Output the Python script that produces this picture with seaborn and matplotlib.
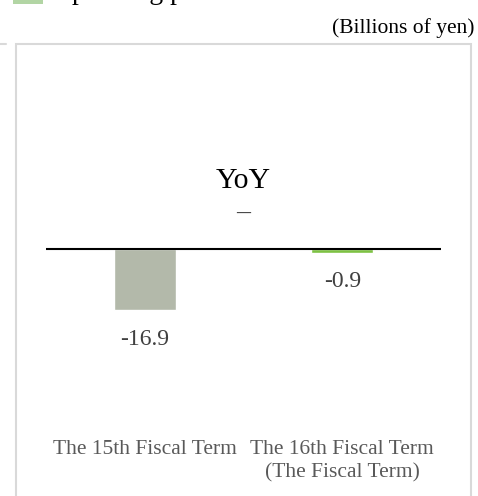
import matplotlib
matplotlib.use("Agg")
import matplotlib.pyplot as plt
from matplotlib.patches import Rectangle
from matplotlib.lines import Line2D
import matplotlib.transforms as mtransforms
import seaborn as sns
import pandas as pd

# Data
categories = ["The 15th Fiscal Term", "The 16th Fiscal Term\n(The Fiscal Term)"]
values = [-16.9, -0.9]
bar_colors = ["#B3B9AA", "#7DC242"]
legend_label = "Operating profit"
unit_label = "(Billions of yen)"
panel_title = "YoY"
panel_subtitle = "\u2013"

sns.set_theme(style="white")
plt.rcParams["font.family"] = ["Liberation Serif", "DejaVu Serif"]

W, H = 478, 496
fig = plt.figure(figsize=(W / 100, H / 100), dpi=100)


def fx(px):
    return px / W


def fy(py):
    return 1 - py / H


# Panel frame and neighbouring frame edge
fig.add_artist(Rectangle((fx(16), fy(520)), fx(471) - fx(16), fy(44) - fy(520),
                         transform=fig.transFigure, fill=False,
                         edgecolor="#D9D9D9", linewidth=1.5))
fig.add_artist(Line2D([fx(0), fx(6)], [fy(44), fy(44)], transform=fig.transFigure,
                      color="#D9D9D9", linewidth=1.5))

# Legend swatch and label running off the top edge
fig.add_artist(Rectangle((fx(13), fy(4)), fx(43) - fx(13), fy(-20) - fy(4),
                         transform=fig.transFigure, facecolor="#B2D5A4",
                         edgecolor="none"))
fig.text(fx(52), fy(-1), legend_label, fontsize=20, va="baseline", ha="left",
         color="black")
fig.text(fx(474), fy(28), unit_label, fontsize=15.5, va="center", ha="right",
         color="black")

# Bar axes
top_px, bot_px, base_px, scale = 100, 400, 249.5, 3.58
ax = fig.add_axes([fx(46), fy(bot_px), fx(441) - fx(46), fy(top_px) - fy(bot_px)])
df = pd.DataFrame({"term": categories, "value": values})
sns.barplot(data=df, x="term", y="value", hue="term", palette=bar_colors,
            width=0.313, legend=False, ax=ax, saturation=1)
ax.set_xlim(-0.5, 1.5)
ax.set_ylim(-(bot_px - base_px) / scale, (base_px - top_px) / scale)
ax.axhline(0, color="black", linewidth=1.5, zorder=5)
ax.axis("off")

for cont in ax.containers:
    ax.bar_label(cont, fmt="{:.1f}", padding=13.5, fontsize=17, color="#404040")

# Category labels
xform = mtransforms.blended_transform_factory(ax.transData, fig.transFigure)
for i, cat in enumerate(categories):
    ax.text(i, fy(440), cat, transform=xform, ha="center", va="top",
            fontsize=15.5, color="#595959", linespacing=1.3)

# Panel heading
fig.text(fx(243), fy(181), panel_title, fontsize=21.5, ha="center", va="center",
         color="black")
fig.text(fx(243), fy(213), panel_subtitle, fontsize=20, ha="center", va="center",
         color="#404040")

fig.savefig("out.png", dpi=100)
